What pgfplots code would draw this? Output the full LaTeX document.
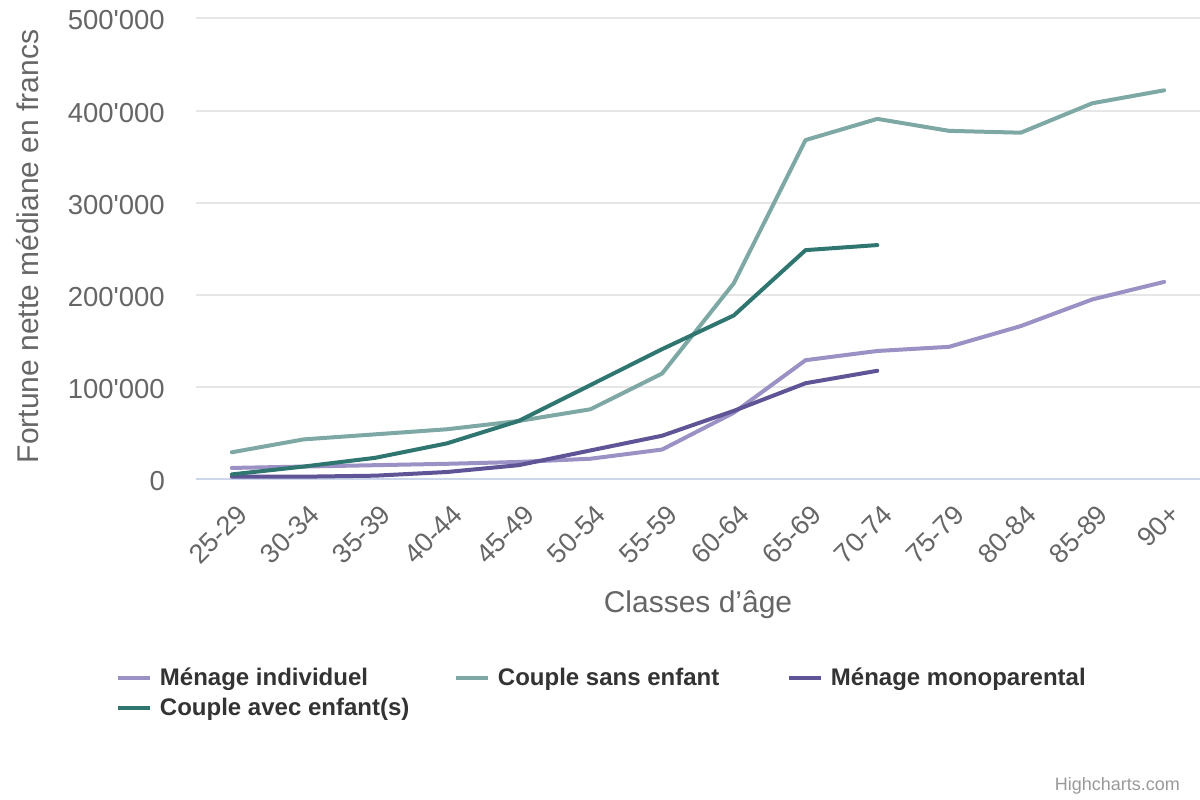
\documentclass[border=0pt]{standalone}
\usepackage{pgfplots}
\pgfplotsset{compat=1.18}
\usepackage{fontspec}
\setmainfont{Liberation Sans}

\definecolor{indiv}{RGB}{156,145,196}
\definecolor{sansenf}{RGB}{126,168,164}
\definecolor{monop}{RGB}{95,84,150}
\definecolor{avecenf}{RGB}{47,117,112}
\definecolor{labeltext}{RGB}{102,102,102}
\definecolor{legtext}{RGB}{51,51,51}
\definecolor{gridc}{RGB}{230,230,230}
\definecolor{axisc}{RGB}{204,214,235}
\definecolor{credit}{RGB}{153,153,153}

% Median net wealth (francs) by age class, x = 0 (25-29) ... 13 (90+)
\pgfplotstableread{
x  y
0  12000
1  13500
2  15000
3  16500
4  18500
5  22000
6  32000
7  72000
8  129000
9  139000
10 143500
11 166000
12 195000
13 214000
}\menageindividuel
\pgfplotstableread{
x  y
0  29000
1  43000
2  48500
3  54000
4  63000
5  75700
6  114500
7  212600
8  368000
9  391000
10 378000
11 376000
12 408000
13 422000
}\couplesansenfant
\pgfplotstableread{
x  y
0  2500
1  2500
2  3600
3  7600
4  15000
5  31000
6  47000
7  74000
8  104000
9  117500
}\menagemonoparental
\pgfplotstableread{
x  y
0  5000
1  13500
2  23000
3  38700
4  63000
5  102000
6  141000
7  177600
8  248500
9  254000
}\coupleavecenfants

\begin{document}
\begin{tikzpicture}
\path[use as bounding box] (0,0) rectangle (1200bp,800bp);
\begin{axis}[
  at={(196bp,321bp)}, anchor=south west,
  scale only axis, width=1004bp, height=460.5bp,
  xmin=-0.5, xmax=13.5, ymin=0, ymax=500000,
  xtick={0,...,13},
  xticklabels={25-29,30-34,35-39,40-44,45-49,50-54,55-59,60-64,65-69,70-74,75-79,80-84,85-89,90+},
  ytick={0,100000,200000,300000,400000,500000},
  yticklabels={0,100\textquotesingle 000,200\textquotesingle 000,300\textquotesingle 000,400\textquotesingle 000,500\textquotesingle 000},
  scaled y ticks=false,
  major tick length=0pt,
  axis x line*=bottom, axis y line*=left,
  x axis line style={axisc, line width=2bp},
  y axis line style={draw=none},
  ymajorgrids, major grid style={gridc, line width=2bp},
  tick label style={text=labeltext, inner sep=0pt},
  yticklabel style={anchor=east, xshift=-31bp, yshift=-2bp, font=\fontsize{27.5bp}{31bp}\selectfont},
  % shifts are taken along the rotated frame
  xticklabel style={rotate=45, anchor=east, xshift=-14.2bp, yshift=-29.4bp, font=\fontsize{27bp}{31bp}\selectfont},
  xlabel={Classes d’âge},
  ylabel={Fortune nette médiane en francs},
  every axis x label/.style={at={(axis description cs:0.5,-0.2736)}, anchor=center,
    text=labeltext, font=\fontsize{30bp}{34bp}\selectfont, inner sep=0pt},
  every axis y label/.style={at={(axis description cs:-0.1673,0.505)}, anchor=center, rotate=90,
    text=labeltext, font=\fontsize{30bp}{34bp}\selectfont, inner sep=0pt},
  legend columns=3,
  legend image code/.code={\draw[#1, line width=4bp, line cap=butt] (0bp,0bp) -- (32bp,0bp);},
  legend style={draw=none, fill=none,
    at={(axis description cs:-0.0797,-0.4104)}, anchor=north west,
    font=\bfseries\fontsize{24bp}{28bp}\selectfont, text=legtext,
    inner sep=0pt, outer sep=0pt,
    nodes={inner sep=0pt},
    row sep=11bp,
    /tikz/every odd column/.append style={column sep=8bp},
    /tikz/every even column/.append style={column sep=0bp}},
  legend cell align=left,
  every axis plot/.append style={line width=4bp, line join=round, line cap=round, mark=none},
  clip=false,
]
\addplot[indiv] table {\menageindividuel};
\addlegendentry{\makebox[294bp][l]{Ménage individuel}}
\addplot[sansenf] table {\couplesansenfant};
\addlegendentry{\makebox[289bp][l]{Couple sans enfant}}
\addplot[monop] table {\menagemonoparental};
\addlegendentry{\makebox[294bp][l]{Ménage monoparental}}
\addplot[avecenf] table {\coupleavecenfants};
\addlegendentry{\makebox[294bp][l]{Couple avec enfant(s)}}
\end{axis}
\node[anchor=east, text=credit, font=\fontsize{18bp}{20bp}\selectfont, inner sep=0pt] at (1180bp,14bp) {Highcharts.com};
\end{tikzpicture}
\end{document}
